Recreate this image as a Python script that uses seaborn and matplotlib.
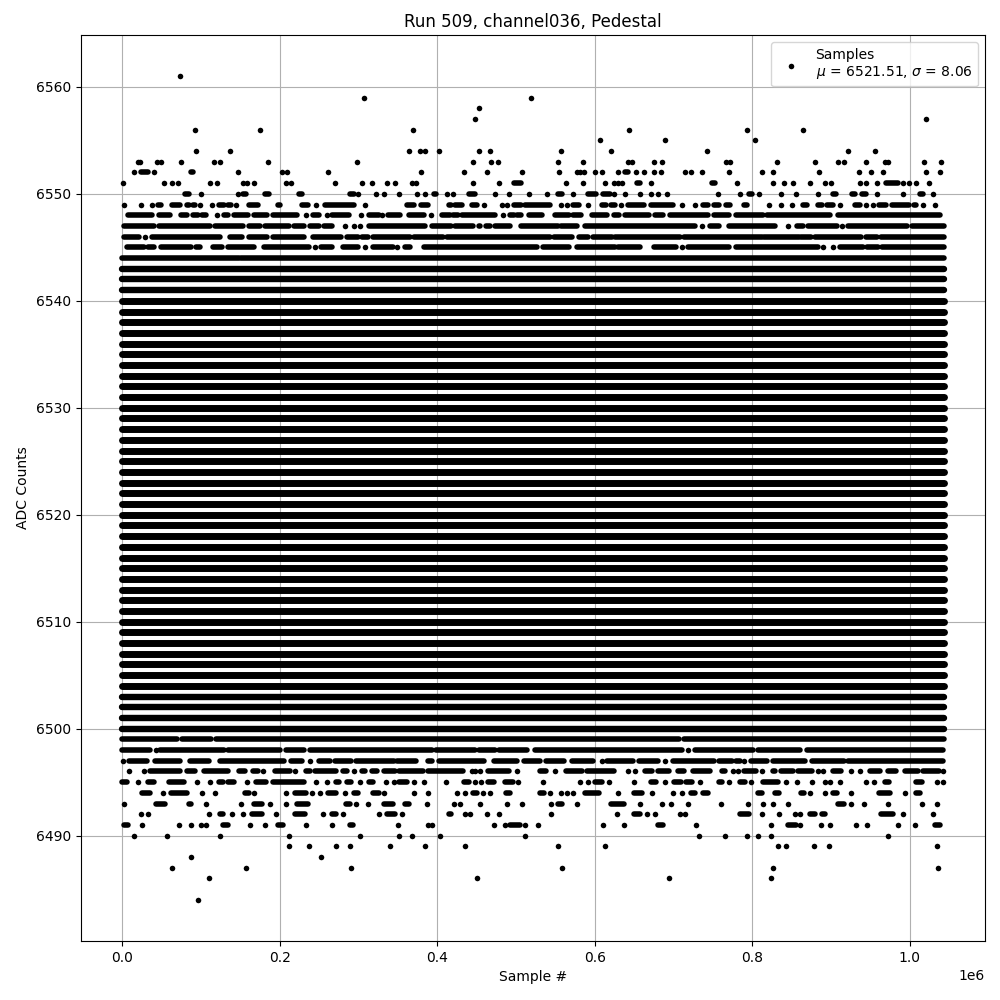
import matplotlib
matplotlib.use('Agg')
import matplotlib.pyplot as plt
import seaborn as sns
import pandas as pd

# ------------------- Values ------------------------------------------
# x in thousands of samples. A number is one dot, a (start, end) pair is a
# stretch of dots too dense to tell apart.
row_6561 = [73]
row_6559 = [307, 519]
row_6558 = [453]
row_6557 = [447.5, 1021]
row_6556 = [92, 175, 369, 644, 794, 865]
row_6555 = [607, 689, 804]
row_6554 = [94, 137, 364, 378, 385, 402, 453, 466.5, 557, 621, 743, 921, 956]
row_6553 = [20, 23, 44, 50, 74.5, 117, 124, 185, 298, 445, 468, 477, 553, 585, 642, 647, 675, 686,
            767, 772, 831, 880, 909, 917, 944, 968, 973, 1018.5, 1040]
row_6552 = [15, (24, 33), 40, (87.5, 90.5), 147, 203, 209, 262, 379, 434, 463, 508, 555, 577, 582, 587, 600,
            609, 630, (638, 642), 653, 663, 675, 684, 715, 722, 736, 771, 812, 826, 885, 935, 951, 966.5,
            1021, 1039]
row_6551 = [1, 53, 63, 71, 111, 121, 153, 158, 168, 208, 215, 270, 304, 317, 336, 347, 368, 373, 445, 479,
            (497, 507), 563, 585, 612.5, 625, 630, 635, (654, 658), 671, (749.5, 753), 781, 827, 840, 852,
            873, 892, 900.5, 937, 945, 958, (970, 985.5), 992, 999.5, 1008, 1025]
row_6550 = [(79.5, 84.5), 100, 147, (154, 157), (181, 186), (224, 228), (289, 294), 300, 322, 333, 352, 375,
            385, (395.5, 399), 413, 420, (441, 447.5), 473, 491, 516, 540, (553, 558), 573, (592, 602),
            (611, 619), 625, 638, 658, 672, 681, 692, 757, 784, (796.5, 800), 809, 836, 855, 883, (903, 907),
            (927, 931), (940, 945), 958, 991, (1013.5, 1017), 1030]
row_6549 = [2, 24, 38, (45, 50), (63, 74), (82, 85), (90, 92), 99, 114, (123, 129), (134, 138), 144, (161, 172),
            (197.5, 200), (228, 236), 246, (257, 294), 309, (362, 370), (380, 388), (414.5, 417), (423, 432),
            (444, 451), 459, 482, 489, (498, 507), (512, 543), 557, 565.5, (573, 579.5), 592, (609, 614),
            (621, 626), 634, (642, 662), (671, 700), 711, 727, (738, 744), (752, 758), (767, 772), (789, 794),
            821, 837, 850, (865, 870), (883, 888), (895, 902), 912, (931, 937), 944, 953, (961, 970),
            (978, 999.5), (1005, 1008), 1017, 1032.5]
row_6548 = [(7, 38.5), (46.5, 60.5), (74.5, 83), (90, 97), (101, 107), 121, (130, 135), (142, 159.5), (167, 184),
            (191, 222), 233, (243, 250), 260, (267, 288), 303, (313, 326), 329.5, (337, 353), (363.8, 383),
            392, (405.6, 416), (420, 427), (432, 473), 483, (493, 497), (502, 507), (517, 532.5), (549, 568),
            (573, 583), (596, 616), (625, 631.5), (638, 669.6), (677, 687), (696, 744),
            (752, 770), (779, 814), (819, 899), (909, 1038)]
row_6547 = [(2, 40), (46.5, 112), (118, 154), (161, 175.5), (182, 211.5), (218, 230.5), (239, 250), (256, 267),
            283, 294, 302, (313, 384), (393, 417), (423, 446), (453, 455), (461.5, 467), (473, 493),
            (506, 554), (557, 578), (588, 728), 736, (746, 758), (771, 829), 846, (857, 865),
            (871, 908), 914.5, (921, 997), (1003, 1043)]
row_6546 = [(2, 22), 29, (38, 124), (137, 152), (161, 184), (191, 230.5), (243, 278), (286, 299), (304, 312),
            (319, 366), (370, 408), (412, 543.5), (548, 571), (579.5, 592), (598.5, 622), (626, 708.5),
            (713, 812), (815.5, 860), (862, 875), (880, 938.6), (944, 959), (964, 1043)]
row_6545 = [(6, 27.5), (33, 41), (50, 88), (93.5, 98.6), (116, 126.5), (135, 167), (180, 237), 244.5, (253, 267),
            (281, 300), 309, (318, 343.5), 348.5, (359, 366), (383, 526.6), (534, 567), (578, 626), (630, 657),
            (675, 703), 711, (719, 770), (779, 884), 890, 902, (911, 941), (946, 960), (965, 1043)]
row_6544 = [(0, 148), (151, 1043)]
fringe_rows = [6543, 6542, 6541, 6503, 6502, 6501, 6500]
core_rows = [6540, 6539, 6538, 6537, 6536, 6535, 6534, 6533, 6532, 6531, 6530, 6529, 6528, 6527, 6526,
             6525, 6524, 6523, 6522, 6521, 6520, 6519, 6518, 6517, 6516, 6515, 6514, 6513, 6512, 6511,
             6510, 6509, 6508, 6507, 6506, 6505, 6504]
full_span = (0, 1043.4)
row_6499 = [(0, 70), (76, 113), (119, 707.6), (713, 1043)]
row_6498 = [(0, 36), 43, (48, 129), (135, 201), (208.5, 231), (239, 393), (398, 448), (453, 474), (478, 514),
            (524, 710.6), 719, (727, 801.5), (808, 861), (870, 1042.6)]
row_6497 = [1, (8.5, 31.7), (42, 74), (86, 110), (124, 205), (215, 228), 238, (250, 263.5), (270, 290),
            (296.5, 345), (349, 373.5), (389, 393), (402, 459), (472, 502), (510, 531), (538, 560.5), (571, 598.5),
            609, (616, 649), (656, 680), 689, (700, 751), (758, 774), (780, 784), 790, (798, 819), (827, 867),
            (876, 917), (922, 1042.6)]
row_6496 = [8.5, 27.5, (36, 74), (83, 92), (104, 134), (149, 156), (166, 172), 178.5, (194, 213), 220, (233, 238),
            (244.5, 272), (281, 285), 294, (304, 309), (317, 323.6), (332, 347), (352, 381.5), (389, 433), 444,
            447.5, 455, (465, 491), 502, (530, 538.5), 549, (564, 584), (590, 624), 642, 651, (664.5, 673.4),
            (681, 695), (706, 714), (725, 746.5), (762, 766), 775, 782.5, (790, 805), 812, (826, 829.5),
            (836, 852), (858.6, 875.6), 883, 890, (903, 913), 926, 937, (949, 962), (973, 982.6), (994, 1011),
            (1017, 1037.6), 1042.6]
row_6495 = [(0, 6), 20, (33, 40), (59, 78), 95, 111, (123, 128), (134, 142), 158, (170, 183), (191, 230.5), 246,
            260, (272, 276), (286, 291), 302, (313, 318), 335, 345, (352, 362), 370, 383, 411, (434, 440), 447.5,
            456, (464, 472), (486, 496), 503, 534, 582, 592, (600, 609), 618, 650.5, (671, 678), 689, (701, 709),
            (716.5, 723), 734, (758, 762), 770, (784, 791), 799, (814, 833), 843, 857, 876, 892, 899, 911, 944,
            955, (968, 974), (1008, 1015), 1035, 1042.6]
row_6494 = [(25, 36), 52, (62, 82.5), 101, 118, (156, 161), 167, 208, (219, 233), 241, 251, (261, 272), 283,
            (295, 300), (318, 326), 333, 371, 388, 425, 435, (445, 450), 458, 466.5, (487, 492), (531, 536), 543,
            557, 565.5, 573, (588, 605), 629, (650.5, 660), 673, 700, 711, (722, 727), (737, 744), (807, 813),
            (829.5, 834.5), (862, 866), 874, 893, (902, 908), 925, (961, 975), 994, (1008, 1013.5)]
row_6493 = [2, (43, 55), (85, 88), 106, 151, (168, 177), 188, 208, (222, 236), (284, 289), 296.5, 312,
            (332, 343.5), (359, 364), 387, 421, 428.5, 455, 489, 508, 544, (553, 558), 578, (621, 637), 657, 686,
            697.5, 718, 760, 795, 814, 826, 845, (909, 917), 925, 942, 972, 1015, 1035]
row_6492 = [24, 33, 110, (124, 128), 140, 153, (164.5, 177), 196, (219, 232), 255, (267, 272), 280, 326,
            (336, 346), 355, (414.5, 418), 435, 442, 463, 479, 544, 628, (650.5, 657), 667, 677, 708, 715, (785, 796.5),
            813, 834.5, 854, 861, (873, 880), (888, 893), (964, 979), 991, 1029]
row_6491 = [(2, 7), 25, 72, 88, 100, 107, (128, 135), 162, 182, (197.5, 204), 234, 267, (289, 293), 350, 388, 394,
            472, 486, (493, 505), 512, 527.5, 611, 637, (681, 687), 729, 824, (846, 855), 861, 887, 899, 932, 946,
            985.5, 1007, (1032.5, 1039)]
row_6490 = [15, 57, 124, 211.5, 302, 351, 368, 403, 512, 733, 766, 793, 807, 824, 973]
row_6489 = [211.5, 237, 272, 289, 340, 384, 436, 553, 612.5, 833, 843, 879, 897, 1035]
row_6488 = [87, 252]
row_6487 = [63, 157, 291, 558, 826, 1036]
row_6486 = [110, 451, 694, 824]
row_6484 = [96]

sparse_rows = {
    6561: row_6561, 6559: row_6559, 6558: row_6558, 6557: row_6557, 6556: row_6556, 6555: row_6555,
    6554: row_6554, 6553: row_6553, 6552: row_6552, 6551: row_6551, 6550: row_6550, 6549: row_6549,
    6548: row_6548, 6547: row_6547, 6546: row_6546, 6545: row_6545, 6544: row_6544, 6499: row_6499,
    6498: row_6498, 6497: row_6497, 6496: row_6496, 6495: row_6495, 6494: row_6494, 6493: row_6493,
    6492: row_6492, 6491: row_6491, 6490: row_6490, 6489: row_6489, 6488: row_6488, 6487: row_6487,
    6486: row_6486, 6484: row_6484,
}

# ------------------- Build tables ---------------------
dots = []
runs = []
for level, items in sparse_rows.items():
    for item in items:
        if isinstance(item, tuple):
            run_id = len(runs) // 2
            runs.append({'run': run_id, 'sample': item[0] * 1000, 'adc': level})
            runs.append({'run': run_id, 'sample': item[1] * 1000, 'adc': level})
        else:
            dots.append({'sample': item * 1000, 'adc': level})


def full_rows(levels):
    rows = []
    for i, level in enumerate(levels):
        rows.append({'run': i, 'sample': full_span[0] * 1000, 'adc': level})
        rows.append({'run': i, 'sample': full_span[1] * 1000, 'adc': level})
    return pd.DataFrame(rows)


df_dots = pd.DataFrame(dots)
df_runs = pd.DataFrame(runs)

# ------------------- Plot ---------------------
fig, ax = plt.subplots(figsize=(10, 10), dpi=100)
for table, width in [(df_runs, 4), (full_rows(fringe_rows), 4.6), (full_rows(core_rows), 5)]:
    sns.lineplot(data=table, x='sample', y='adc', units='run', estimator=None, color='black',
                 linewidth=width, solid_capstyle='round', legend=False, ax=ax, zorder=3)
sns.scatterplot(data=df_dots, x='sample', y='adc', color='black', s=16, linewidth=0, ax=ax, zorder=3,
                label='Samples\n$\\mu$ = 6521.51, $\\sigma$ = 8.06')

ax.grid(True)
ax.set_title('Run 509, channel036, Pedestal', pad=5.5)
ax.set_xlabel('Sample #')
ax.set_ylabel('ADC Counts')
ax.legend(loc='upper right')
fig.subplots_adjust(left=0.081, right=0.985, top=0.965, bottom=0.059)
plt.savefig('out.png', dpi=100)
